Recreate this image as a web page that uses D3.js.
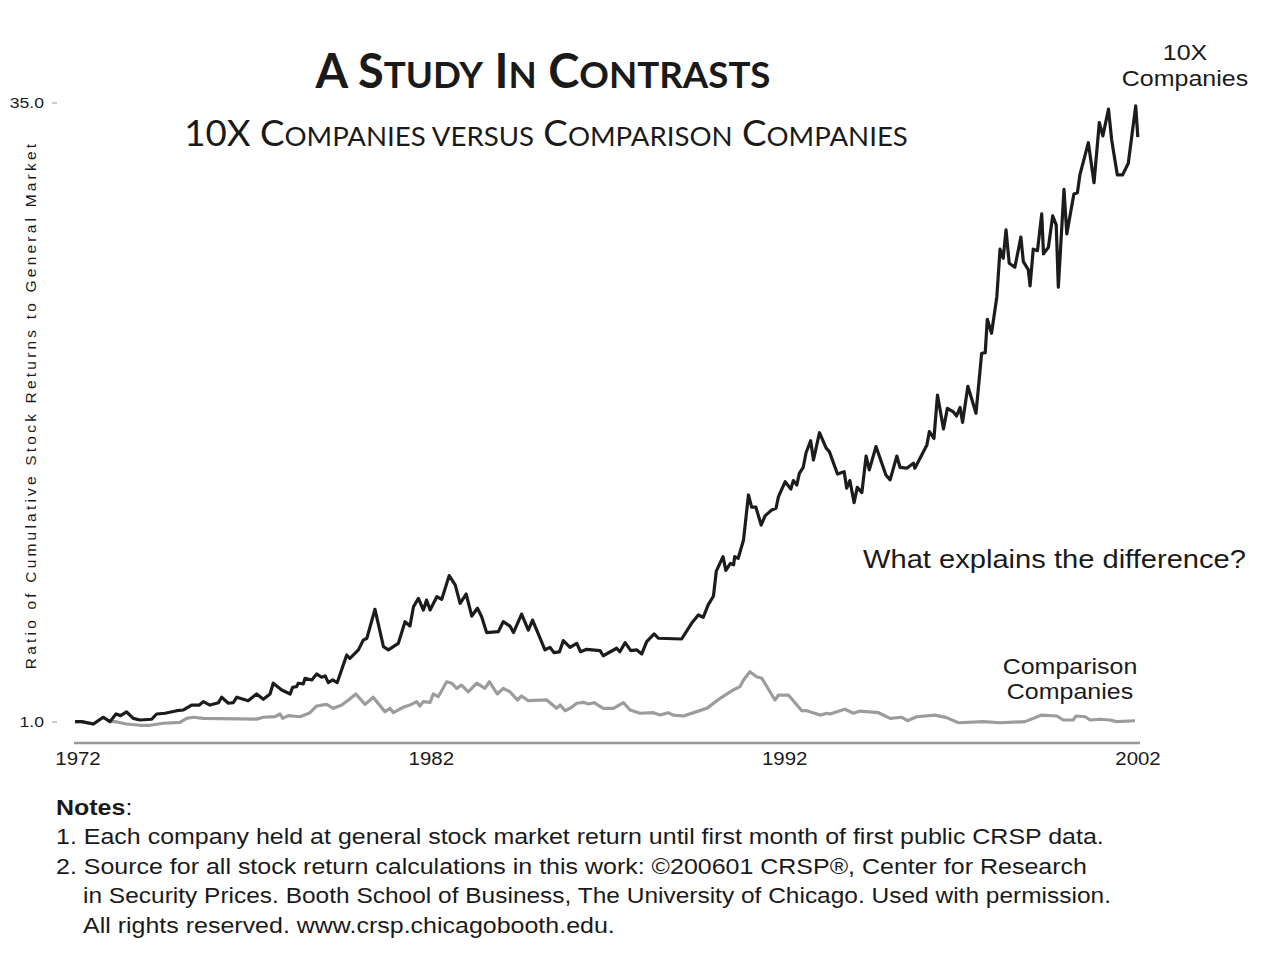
<!DOCTYPE html>
<html>
<head>
<meta charset="utf-8">
<script src="https://cdn.jsdelivr.net/npm/d3@7"></script>
<style>
  body { margin: 0; background: #fff; }
  svg { display: block; }
  text { font-family: "Liberation Sans", Arial, sans-serif; fill: #1a1a1a; }
</style>
</head>
<body>
<div id="chart"></div>
<script>
// 10X companies, ratio of cumulative returns to market: [year, ratio]
var tenX = [
  [1972.00,1.02],[1972.19,1.02],[1972.52,0.89],[1972.80,1.26],[1972.99,1.02],
  [1973.16,1.44],[1973.29,1.35],[1973.46,1.55],[1973.65,1.20],[1973.84,1.11],
  [1974.17,1.15],[1974.31,1.44],[1974.55,1.48],[1974.88,1.62],[1975.07,1.66],
  [1975.30,1.93],[1975.52,1.93],[1975.63,2.12],[1975.82,1.93],[1976.06,2.06],
  [1976.15,2.36],[1976.34,2.03],[1976.48,2.06],[1976.58,2.36],[1976.90,2.17],
  [1977.14,2.54],[1977.33,2.25],[1977.52,2.54],[1977.61,3.13],[1977.85,2.76],
  [1978.09,2.54],[1978.16,2.91],[1978.27,2.94],[1978.32,3.13],[1978.46,3.09],
  [1978.51,3.40],[1978.70,3.31],[1978.84,3.64],[1978.98,3.46],[1979.08,3.53],
  [1979.17,3.16],[1979.29,3.31],[1979.42,3.16],[1979.69,4.68],[1979.78,4.50],
  [1980.02,4.96],[1980.16,5.50],[1980.26,5.60],[1980.49,7.19],[1980.73,5.14],
  [1980.87,4.96],[1981.15,5.32],[1981.34,6.51],[1981.48,6.27],[1981.58,7.33],
  [1981.72,7.79],[1981.86,7.15],[1981.95,7.70],[1982.05,7.15],[1982.24,7.88],
  [1982.38,7.74],[1982.59,9.04],[1982.76,8.53],[1982.90,7.52],[1983.07,8.03],
  [1983.23,6.82],[1983.39,7.25],[1983.51,6.78],[1983.65,5.91],[1983.98,5.96],
  [1984.12,6.51],[1984.31,6.27],[1984.41,5.91],[1984.64,6.93],[1984.83,6.05],
  [1984.95,6.60],[1985.30,4.96],[1985.44,5.10],[1985.56,4.81],[1985.71,4.85],
  [1985.82,5.47],[1986.01,5.10],[1986.20,5.32],[1986.31,4.86],[1986.48,4.99],
  [1986.86,4.92],[1986.95,4.64],[1987.33,5.05],[1987.42,4.86],[1987.57,5.36],
  [1987.73,4.92],[1987.90,4.96],[1988.04,4.74],[1988.18,5.41],[1988.39,5.84],
  [1988.51,5.60],[1989.17,5.56],[1989.45,6.42],[1989.64,6.88],[1989.78,6.75],
  [1989.92,7.43],[1990.07,7.92],[1990.15,9.29],[1990.34,10.08],[1990.42,9.33],
  [1990.55,9.71],[1990.64,9.63],[1990.67,10.08],[1990.77,9.99],[1990.92,11.00],
  [1991.06,13.47],[1991.15,12.80],[1991.27,12.80],[1991.42,11.82],[1991.53,12.32],
  [1991.72,12.65],[1991.84,12.74],[1991.91,13.38],[1992.10,14.20],[1992.26,13.79],
  [1992.33,14.26],[1992.43,14.02],[1992.50,14.66],[1992.61,14.99],[1992.69,15.79],
  [1992.82,16.45],[1992.90,15.39],[1993.07,16.89],[1993.26,16.04],[1993.35,15.85],
  [1993.58,14.62],[1993.77,14.75],[1993.84,13.84],[1993.93,14.26],[1994.05,13.05],
  [1994.14,13.89],[1994.27,13.60],[1994.39,15.61],[1994.48,14.85],[1994.67,16.13],
  [1994.95,14.57],[1995.07,14.30],[1995.26,15.61],[1995.35,14.99],[1995.54,14.94],
  [1995.73,15.21],[1995.77,14.94],[1996.11,16.22],[1996.18,16.95],[1996.31,16.58],
  [1996.41,18.96],[1996.58,17.10],[1996.69,18.23],[1996.86,18.03],[1996.95,17.81],
  [1997.05,18.28],[1997.12,17.46],[1997.27,19.44],[1997.50,17.96],[1997.66,21.25],
  [1997.76,21.28],[1997.82,23.12],[1997.94,22.35],[1998.09,24.36],[1998.18,26.97],
  [1998.27,26.47],[1998.35,28.03],[1998.44,26.20],[1998.60,25.98],[1998.77,27.63],
  [1998.84,26.29],[1998.98,25.84],[1999.03,24.96],[1999.12,26.97],[1999.24,26.89],
  [1999.36,28.91],[1999.41,26.71],[1999.55,27.08],[1999.67,28.80],[1999.77,28.31],
  [1999.83,24.88],[1999.99,30.26],[2000.07,27.81],[2000.27,30.00],[2000.37,30.07],
  [2000.44,31.05],[2000.68,32.82],[2000.84,30.62],[2000.99,33.92],[2001.09,33.19],
  [2001.25,34.66],[2001.34,32.97],[2001.50,31.05],[2001.65,31.05],[2001.81,31.69],
  [2002.02,34.84],[2002.08,33.12]
];

// comparison companies: [year, ratio]
var comparison = [
  [1972.00,1.02],[1972.19,1.02],[1972.52,0.89],[1972.80,1.26],[1972.99,1.02],
  [1973.13,1.02],[1973.46,0.89],[1973.84,0.82],[1974.12,0.82],[1974.50,0.93],
  [1974.97,0.98],[1975.16,1.20],[1975.35,1.26],[1975.63,1.20],[1977.14,1.16],
  [1977.33,1.26],[1977.66,1.29],[1977.80,1.44],[1977.88,1.20],[1978.04,1.35],
  [1978.37,1.29],[1978.65,1.51],[1978.84,1.88],[1979.12,1.97],[1979.31,1.75],
  [1979.55,1.93],[1979.74,2.21],[1979.95,2.54],[1980.21,1.97],[1980.44,2.36],
  [1980.77,1.57],[1980.92,1.75],[1981.01,1.51],[1981.29,1.81],[1981.48,1.93],
  [1981.67,2.12],[1981.76,1.88],[1981.86,2.12],[1982.05,2.08],[1982.14,2.54],
  [1982.28,2.39],[1982.52,3.21],[1982.66,3.13],[1982.80,2.85],[1982.94,3.03],
  [1983.13,2.66],[1983.37,3.13],[1983.60,2.85],[1983.73,3.21],[1983.95,2.54],
  [1984.12,2.85],[1984.31,2.66],[1984.52,2.21],[1984.64,2.43],[1984.83,2.17],
  [1985.35,2.21],[1985.63,1.75],[1985.73,1.93],[1985.87,1.62],[1986.06,1.81],
  [1986.20,2.03],[1986.39,2.08],[1986.53,1.99],[1986.69,2.06],[1986.95,1.75],
  [1987.24,1.75],[1987.52,2.06],[1987.71,1.66],[1987.99,1.48],[1988.37,1.51],
  [1988.56,1.38],[1988.79,1.51],[1988.93,1.38],[1989.22,1.33],[1989.60,1.57],
  [1989.88,1.75],[1990.26,2.30],[1990.63,2.76],[1990.82,2.94],[1990.92,3.31],
  [1991.10,3.76],[1991.29,3.49],[1991.44,3.40],[1991.81,2.21],[1991.91,2.48],
  [1992.19,2.48],[1992.57,1.62],[1992.71,1.62],[1993.09,1.38],[1993.28,1.48],
  [1993.37,1.44],[1993.65,1.62],[1993.79,1.70],[1994.03,1.48],[1994.22,1.60],
  [1994.74,1.51],[1995.07,1.20],[1995.40,1.26],[1995.56,1.07],[1995.82,1.29],
  [1996.34,1.38],[1996.67,1.24],[1997.00,0.96],[1997.71,1.02],[1998.18,0.96],
  [1998.89,1.02],[1999.36,1.38],[1999.79,1.33],[1999.97,1.11],[2000.25,1.11],
  [2000.33,1.33],[2000.59,1.29],[2000.73,1.11],[2001.01,1.15],[2001.29,1.11],
  [2001.48,1.02],[2002.00,1.07]
];

var yearTicks = [1972, 1982, 1992, 2002];
var ratioTicks = [1.0, 35.0];

var noteLines = [
  "1. Each company held at general stock market return until first month of first public CRSP data.",
  "2. Source for all stock return calculations in this work: \u00a9200601 CRSP\u00ae, Center for Research",
  "in Security Prices. Booth School of Business, The University of Chicago. Used with permission.",
  "All rights reserved. www.crsp.chicagobooth.edu."
];

var width = 1270, height = 960;
var stretch = 1.136;   // the sans text in the original is set a bit wide

var svg = d3.select("#chart")
  .append("svg")
  .attr("width", width).attr("height", height);

var x = d3.scaleLinear().domain([1972, 2002]).range([75, 1135]);
var y = d3.scaleLinear().domain([1, 35]).range([722, 103]);

// text placed at (px,py) and widened horizontally
function wideText(px, py, sx) {
  return svg.append("g")
    .attr("transform", "translate(" + px + "," + py + ") scale(" + (sx || stretch) + ",1)")
    .append("text");
}

// small caps built by hand: first letter of each word large, rest smaller
function smallCaps(sel, words, big, small) {
  words.forEach(function(w, i) {
    var pre = i > 0 ? " " : "";
    if (w.allSmall) {
      sel.append("tspan").attr("font-size", small).text(pre + w.t.toUpperCase());
    } else if (w.allBig) {
      sel.append("tspan").attr("font-size", big).text(pre + w.t);
    } else {
      sel.append("tspan").attr("font-size", big).text(pre + w.t.charAt(0));
      sel.append("tspan").attr("font-size", small).text(w.t.slice(1).toUpperCase());
    }
  });
}

var title = svg.append("text")
  .attr("x", 543).attr("y", 88)
  .attr("text-anchor", "middle")
  .style("font-family", "Lato, 'Open Sans', sans-serif")
  .style("font-weight", "bold");
smallCaps(title, [{t: "A"}, {t: "Study"}, {t: "In"}, {t: "Contrasts"}], 47, 36.7);

var subtitle = svg.append("text")
  .attr("x", 546).attr("y", 146)
  .attr("text-anchor", "middle")
  .style("font-family", "Lato, 'Open Sans', sans-serif");
smallCaps(subtitle, [{t: "10X", allBig: true}, {t: "Companies"}, {t: "versus", allSmall: true},
  {t: "Comparison"}, {t: "Companies"}], 36.7, 27.6);

// x axis line
svg.append("line")
  .attr("x1", x(1972) - 1).attr("x2", x(2002) + 5)
  .attr("y1", 743).attr("y2", 743)
  .attr("stroke", "#999").attr("stroke-width", 2.5);

yearTicks.forEach(function(d) {
  wideText(x(d) + 3, 765)
    .attr("text-anchor", "middle")
    .attr("font-size", 18)
    .text(d);
});

// y ticks
svg.selectAll(".ytick")
  .data(ratioTicks)
  .enter().append("line")
  .attr("class", "ytick")
  .attr("x1", 52).attr("x2", 57)
  .attr("y1", function(d) { return y(d); })
  .attr("y2", function(d) { return y(d); })
  .attr("stroke", "#999").attr("stroke-width", 1);

ratioTicks.forEach(function(d) {
  wideText(44, y(d) + 5)
    .attr("text-anchor", "end")
    .attr("font-size", 15.5)
    .attr("fill", "#333")
    .text(d.toFixed(1));
});

svg.append("text")
  .attr("transform", "translate(36,405) rotate(-90)")
  .attr("text-anchor", "middle")
  .attr("font-size", 15.5)
  .style("letter-spacing", "3.2px")
  .attr("fill", "#333")
  .text("Ratio of Cumulative Stock Returns to General Market");

var line = d3.line()
  .x(function(d) { return x(d[0]); })
  .y(function(d) { return y(d[1]); });

svg.append("path")
  .datum(comparison)
  .attr("d", line)
  .attr("fill", "none")
  .attr("stroke", "#9c9c9c")
  .attr("stroke-width", 3.2)
  .attr("stroke-linejoin", "round");

svg.append("path")
  .datum(tenX)
  .attr("d", line)
  .attr("fill", "none")
  .attr("stroke", "#1c1c1c")
  .attr("stroke-width", 3.2)
  .attr("stroke-linejoin", "round");

// series labels
var lab10 = wideText(1185, 0).attr("text-anchor", "middle").attr("font-size", 22);
lab10.append("tspan").attr("x", 0).attr("y", 60).text("10X");
lab10.append("tspan").attr("x", 0).attr("y", 86).text("Companies");

var labCmp = wideText(1070, 0).attr("text-anchor", "middle").attr("font-size", 22);
labCmp.append("tspan").attr("x", 0).attr("y", 674).text("Comparison");
labCmp.append("tspan").attr("x", 0).attr("y", 699).text("Companies");

wideText(863, 568, 1.12)
  .attr("font-size", 26)
  .text("What explains the difference?");

// notes
var notes = wideText(56, 815).attr("font-size", 22);
notes.append("tspan").style("font-weight", "bold").text("Notes");
notes.append("tspan").text(":");

var noteStretch = [1.136, 1.136, 1.113, 1.136];
noteLines.forEach(function(d, i) {
  wideText(i < 2 ? 56 : 83, 844 + i * 29.5, noteStretch[i])
    .attr("font-size", 22)
    .text(d);
});
</script>
</body>
</html>
